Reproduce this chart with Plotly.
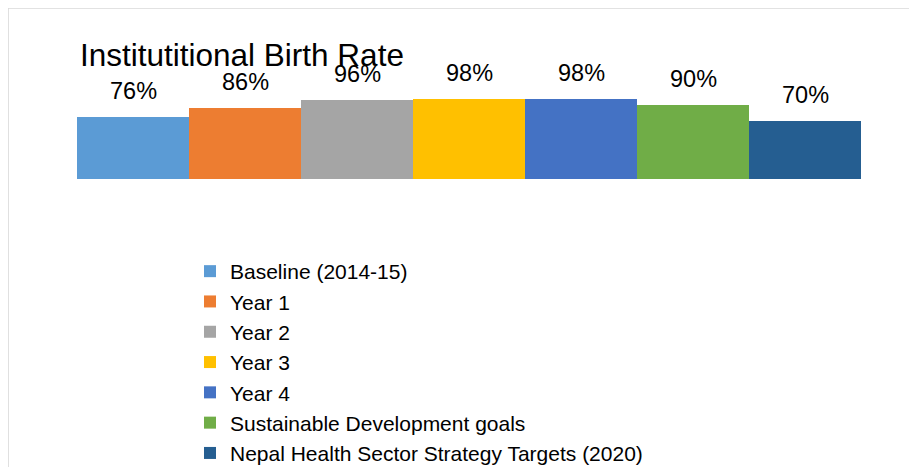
import plotly.graph_objects as go

series_names = [
    "Baseline (2014-15)",
    "Year 1",
    "Year 2",
    "Year 3",
    "Year 4",
    "Sustainable Development goals",
    "Nepal Health Sector Strategy Targets (2020)",
]
values = [76, 86, 96, 98, 98, 90, 70]
value_labels = ["76%", "86%", "96%", "98%", "98%", "90%", "70%"]
colors = ["#5B9BD5", "#ED7D31", "#A5A5A5", "#FFC000", "#4472C4", "#70AD47", "#255E91"]
title_text = "Institutitional Birth Rate"

W, H = 917, 467
OFF = 8  # page offset of the figure inside the browser window
L, R, T, B = 77 - OFF, W - (861 - OFF), 0, 0
pw, ph = W - L - R, H - T - B

# vertical scale: zero at window y=178.5, 0.815 px per %
zero_y = 178.5 - OFF
k = 0.815
y_top = zero_y / k
y_bot = -(H - zero_y) / k

fig = go.Figure()
for name, v, c in zip(series_names, values, colors):
    fig.add_trace(go.Bar(x=[name], y=[v], name=name, marker=dict(color=c, line=dict(width=0))))

annotations = []
for name, v, lab in zip(series_names, values, value_labels):
    annotations.append(dict(x=name, y=v, xref="x", yref="y", text=lab, showarrow=False,
                            yanchor="bottom", yshift=11,
                            font=dict(family="Liberation Sans, Arial", size=23.5, color="#000000")))

def px_x(p):  # window pixel -> paper x
    return (p - OFF - L) / pw

def px_y(p):  # window pixel -> paper y
    return 1 - (p - OFF - T) / ph

frame = dict(color="#D9D9D9", width=1.4)
fig.update_layout(
    width=W, height=H,
    margin=dict(l=L, r=R, t=T, b=B, autoexpand=False),
    paper_bgcolor="white", plot_bgcolor="white",
    barmode="overlay", bargap=0,
    font=dict(family="Liberation Sans, Arial", color="#000000"),
    title=dict(text=title_text, xref="container", yref="container",
               x=(80 - OFF) / W, xanchor="left", y=1 - (54.5 - OFF) / H, yanchor="middle",
               font=dict(size=31.5, color="#000000"), pad=dict(l=0, r=0, t=0, b=0)),
    xaxis=dict(showticklabels=False, showgrid=False, zeroline=False, showline=False, ticks="", fixedrange=True),
    yaxis=dict(range=[y_bot, y_top], visible=False, fixedrange=True),
    legend=dict(x=px_x(190), xanchor="left", xref="paper", y=px_y(251), yanchor="top",
                font=dict(size=21, color="#000000"), bgcolor="rgba(0,0,0,0)",
                traceorder="normal", itemclick=False, itemdoubleclick=False),
    showlegend=True,
    annotations=annotations,
    shapes=[
        dict(type="line", xref="paper", yref="paper", x0=px_x(8.1), x1=px_x(990),
             y0=px_y(8.1), y1=px_y(8.1), line=frame, layer="below"),
        dict(type="line", xref="paper", yref="paper", x0=px_x(8.1), x1=px_x(8.1),
             y0=px_y(8.1), y1=px_y(560), line=frame, layer="below"),
    ],
)

fig.write_html("out.html")
